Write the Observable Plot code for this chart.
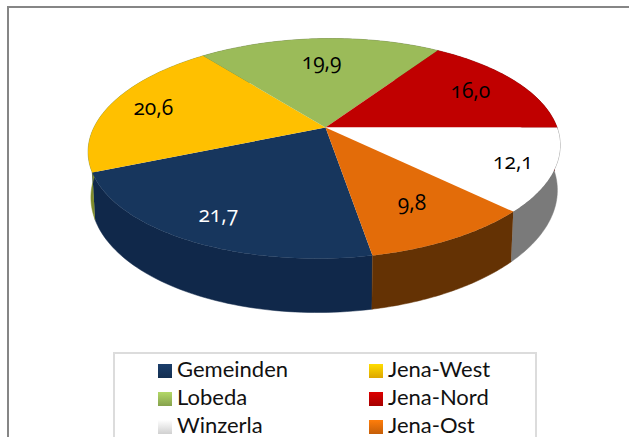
<!DOCTYPE html>
<html><head><meta charset="utf-8">
<script src="https://cdn.jsdelivr.net/npm/d3@7"></script>
<script src="https://cdn.jsdelivr.net/npm/@observablehq/plot@0.6"></script>
<style>
html,body{margin:0;padding:0;background:#fff;width:629px;height:437px;overflow:hidden}
#frame{position:absolute;left:7px;top:6px;width:640px;height:450px;border:2px solid #868686;box-sizing:border-box}
#chart{position:absolute;left:0;top:0}
#chart text{font-variant-numeric:oldstyle-nums;font-feature-settings:"onum"}
#legend{position:absolute;left:113px;top:352px;width:424px;height:100px;border:2px solid #dcdcdc;box-sizing:border-box;background:#fff;font-family:Lato,sans-serif;font-size:22px;color:#111}
.item{position:absolute;white-space:nowrap;line-height:25px;height:25px}
.sw{display:inline-block;width:14px;height:14px;margin-right:5px;vertical-align:-1px}
</style></head><body>
<div id="frame"></div><div id="chart"></div><div id="legend"></div>
<script>
const names = ["Gemeinden","Jena-West","Lobeda","Jena-Nord","Winzerla","Jena-Ost"];
const values = [21.7,20.6,19.9,16.0,12.1,9.8];
const labels = ["21,7","20,6","19,9","16,0","12,1","9,8"];
const topColors = ["#17365d","#ffc000","#9bbb59","#c00000","#ffffff","#e36c09"];
const sideColors = ["#10284a","#7f8b2b","#64793a","#7d0000","#7a7a7a","#643204"];
const labelColors = ["#ffffff","#000000","#000000","#000000","#000000","#000000"];

// view of the disc: rotation, perspective, skew, thickness, base taper, label reach along each slice's middle
const startAngle = 78.8, persp = 0.191, skew = 0.03, thickness = 0.412, taper = 0.012;
const labelReach = [0.81,0.8,0.7,0.75,0.83,0.72];

const total = d3.sum(values);
const project = (r,deg,z=0) => {
  const a = deg*Math.PI/180, u = r*Math.cos(a), v = r*Math.sin(a), w = 1-persp*v;
  return {x:(u-skew*v)*(1-taper*z)/w, y:(v+z*thickness)/w};
};
let cum = startAngle;
const slices = names.map((name,i)=>{
  const a0 = cum, a1 = cum + values[i]/total*360; cum = a1;
  return {name,i,a0,a1};
});
const arcAngles = s => d3.range(0,61).map(k=>s.a0+(s.a1-s.a0)*k/60);
const topPts = slices.flatMap(s=>[
  {...project(0,0),name:s.name},
  ...arcAngles(s).map(a=>({...project(1,a),name:s.name}))
]);
const sidePts = slices.flatMap(s=>{
  const as = arcAngles(s);
  return [
    ...as.map(a=>({...project(1,a),name:s.name,c:sideColors[s.i]})),
    ...as.slice().reverse().map(a=>({...project(1,a,1),name:s.name,c:sideColors[s.i]}))
  ];
});
const labelPts = slices.map(s=>({...project(labelReach[s.i],(s.a0+s.a1)/2),t:labels[s.i],c:labelColors[s.i]}));

const chart = Plot.plot({
  width:629,height:345,margin:0,
  x:{domain:[-1,1],range:[93.4,556.6],axis:null},
  y:{domain:[-1,1],range:[21,233],axis:null},
  color:{type:"identity"},
  marks:[
    Plot.line(sidePts,{x:"x",y:"y",z:"name",fill:d=>d.c,stroke:d=>d.c,strokeWidth:0.5}),
    Plot.line(topPts,{x:"x",y:"y",z:"name",fill:d=>topColors[names.indexOf(d.name)],stroke:"none"}),
    Plot.text(labelPts,{x:"x",y:"y",text:"t",fill:"c",fontSize:21,fontFamily:"'Open Sans', sans-serif"})
  ]
});
document.getElementById("chart").append(chart);

const legend = document.getElementById("legend");
names.forEach((n,i)=>{
  const el = document.createElement("div"); el.className="item";
  el.style.left = (i%2? 254:43)+"px";
  el.style.top = (2+Math.floor(i/2)*28)+"px";
  const sw = document.createElement("span"); sw.className="sw";
  const c = d3.color(topColors[i]);
  sw.style.background = n==="Winzerla" ? "linear-gradient(#fff,#d0d0d0)" : `linear-gradient(${c.brighter(0.4)},${c.darker(0.4)})`;
  el.append(sw,n); legend.append(el);
});
</script></body></html>
